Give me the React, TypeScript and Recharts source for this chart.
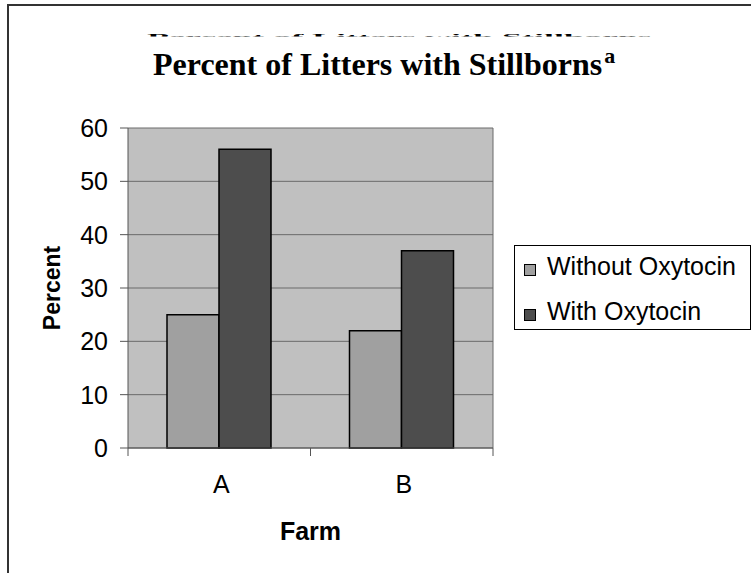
import React from 'react';
import { BarChart, Bar, XAxis, YAxis, CartesianGrid, Legend, Label } from 'recharts';

const farms = ['A', 'B'];
const withoutOxytocin = [25, 22];
const withOxytocin = [56, 37];
const yTicks = [0, 10, 20, 30, 40, 50, 60];
const seriesNames = ['Without Oxytocin', 'With Oxytocin'];
const seriesColors = ['#a0a0a0', '#4d4d4d'];
const titleText = 'Percent of Litters with Stillborns';
const titleSup = 'a';
const xLabel = 'Farm';
const yLabel = 'Percent';

const data = farms.map((f, i) => ({ farm: f, without: withoutOxytocin[i], with: withOxytocin[i] }));

const SANS = '"Liberation Sans", Arial, sans-serif';
const SERIF = '"Liberation Serif", "Times New Roman", serif';
const AXIS = '#555555';
const X_TICK_SIZE = 8;
const X_TICK_MARGIN = 19;

const XTick = (props: any) => {
  const { x, y, payload, index, visibleTicksCount } = props;
  const half = payload && payload.offset ? payload.offset : 91;
  const lineTop = y - X_TICK_MARGIN - X_TICK_SIZE;
  const lineBottom = y - X_TICK_MARGIN;
  return (
    <g>
      <line x1={x - half} x2={x - half} y1={lineTop} y2={lineBottom} stroke={AXIS} strokeWidth={1} />
      {index === (visibleTicksCount ? visibleTicksCount - 1 : 1) && (
        <line x1={x + half} x2={x + half} y1={lineTop} y2={lineBottom} stroke={AXIS} strokeWidth={1} />
      )}
      <text x={x + 2} y={y} dy="0.71em" textAnchor="middle" fill="#000" fontSize={25} fontFamily={SANS}>
        {payload.value}
      </text>
    </g>
  );
};

const renderLegend = (props: any) => {
  const payload = [...(props.payload || [])].sort(
    (a: any, b: any) => seriesNames.indexOf(a.value) - seriesNames.indexOf(b.value)
  );
  return (
    <div
      style={{
        position: 'relative',
        boxSizing: 'border-box',
        width: 237,
        height: 85,
        border: '1px solid #000',
        background: '#fff',
        fontFamily: SANS,
        fontSize: 25,
        lineHeight: '30px',
        color: '#000',
      }}
    >
      {payload.map((entry: any, i: number) => (
        <React.Fragment key={i}>
          <div
            style={{
              position: 'absolute',
              left: 9,
              top: 18 + i * 45,
              width: 12,
              height: 12,
              boxSizing: 'border-box',
              border: '1px solid #000',
              background: entry.color,
            }}
          />
          <div style={{ position: 'absolute', left: 32, top: 5 + i * 45, whiteSpace: 'nowrap' }}>{entry.value}</div>
        </React.Fragment>
      ))}
    </div>
  );
};

export default function App() {
  return (
    <div style={{ position: 'absolute', left: 0, top: 0, width: 751, height: 573, overflow: 'hidden', background: '#fff' }}>
      <div
        style={{
          position: 'absolute',
          left: 7,
          top: 4,
          width: 760,
          height: 600,
          borderLeft: '2px solid #333',
          borderTop: '2px solid #333',
        }}
      />
      <div style={{ position: 'absolute', left: 0, top: 0 }}>
        <BarChart
          width={751}
          height={573}
          data={data}
          margin={{ top: 128, right: 258, bottom: 25, left: 48 }}
          barGap={0}
        >
          <CartesianGrid
            stroke="#6a6a6a"
            strokeWidth={1}
            fill="#c0c0c0"
            verticalCoordinatesGenerator={(p: any) => [p.offset.left + p.offset.width]}
          />
          <XAxis
            dataKey="farm"
            height={100}
            tickLine={false}
            tickSize={X_TICK_SIZE}
            tickMargin={X_TICK_MARGIN}
            axisLine={{ stroke: AXIS, strokeWidth: 1 }}
            tick={<XTick />}
            interval={0}
          >
            <Label
              content={(p: any) => {
                const vb = p.viewBox || {};
                return (
                  <text
                    x={vb.x + vb.width / 2}
                    y={vb.y + 92}
                    textAnchor="middle"
                    fontFamily={SANS}
                    fontWeight="bold"
                    fontSize={25}
                    fill="#000"
                  >
                    {xLabel}
                  </text>
                );
              }}
            />
          </XAxis>
          <YAxis
            width={80}
            domain={[0, 60]}
            ticks={yTicks}
            interval={0}
            tickSize={8}
            tickMargin={12}
            axisLine={{ stroke: AXIS, strokeWidth: 1 }}
            tickLine={{ stroke: AXIS, strokeWidth: 1 }}
            tick={{ fill: '#000', fontSize: 25, fontFamily: SANS }}
          >
            <Label
              content={(p: any) => {
                const vb = p.viewBox || {};
                const cx = vb.x + 4;
                const cy = vb.y + vb.height / 2;
                return (
                  <text
                    x={cx}
                    y={cy}
                    transform={`rotate(-90, ${cx}, ${cy})`}
                    textAnchor="middle"
                    dominantBaseline="central"
                    fontFamily={SANS}
                    fontWeight="bold"
                    fontSize={23}
                    fill="#000"
                  >
                    {yLabel}
                  </text>
                );
              }}
            />
          </YAxis>
          <Legend
            layout="vertical"
            align="center"
            verticalAlign="middle"
            content={renderLegend}
            wrapperStyle={{ position: 'absolute', left: 514, top: 245, width: 237, height: 85 }}
          />
          <Bar
            dataKey="without"
            name={seriesNames[0]}
            fill={seriesColors[0]}
            stroke="#000"
            strokeWidth={1.5}
            barSize={52}
            isAnimationActive={false}
          />
          <Bar
            dataKey="with"
            name={seriesNames[1]}
            fill={seriesColors[1]}
            stroke="#000"
            strokeWidth={1.5}
            barSize={52}
            isAnimationActive={false}
          />
        </BarChart>
      </div>
      <svg
        width={751}
        height={573}
        style={{ position: 'absolute', left: 0, top: 0, pointerEvents: 'none' }}
      >
        <defs>
          <clipPath id="ghostClip">
            <rect x={0} y={34} width={751} height={2.4} />
          </clipPath>
        </defs>
        <g clipPath="url(#ghostClip)">
          <text
            x={147}
            y={0}
            transform="translate(0, 40.4) scale(1, 0.25)"
            fontFamily={SERIF}
            fontWeight="bold"
            fontSize={36}
            fill="#000"
          >
            {titleText}
          </text>
        </g>
        <text x={153} y={75} fontFamily={SERIF} fontWeight="bold" fontSize={32} fill="#000">
          {titleText}
          <tspan dx={2} dy={-12.5} fontSize={22}>
            {titleSup}
          </tspan>
        </text>
      </svg>
    </div>
  );
}
